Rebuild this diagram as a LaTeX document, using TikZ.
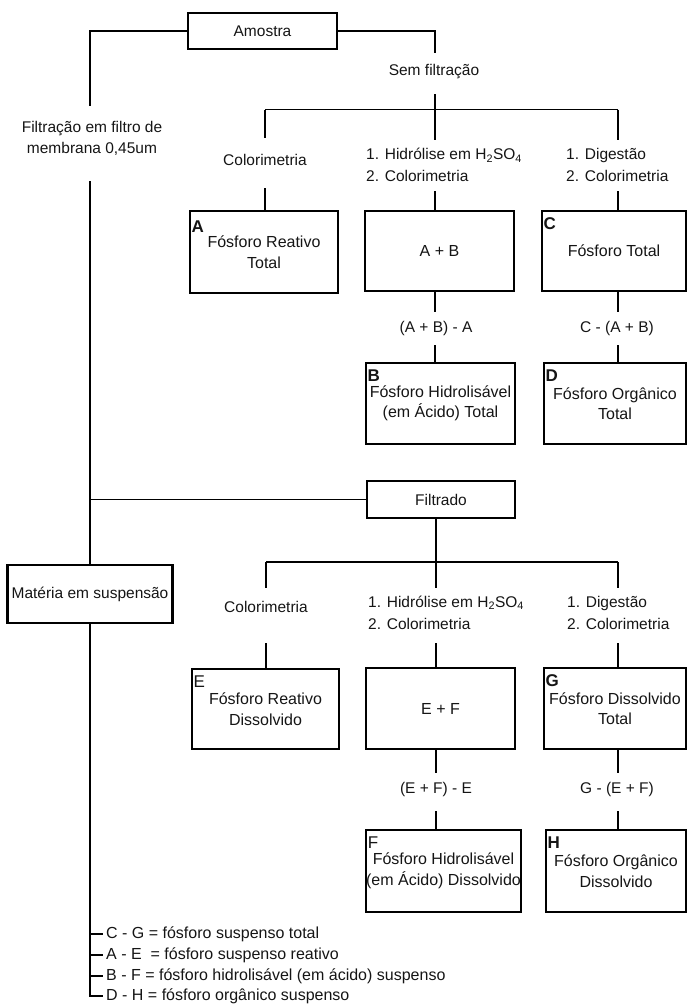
\documentclass[tikz,border=0pt]{standalone}
\usepackage{fontspec}
\setmainfont{Liberation Sans}
\definecolor{txt}{HTML}{151515}
\begin{document}
\begin{tikzpicture}[x=1pt,y=-1pt,
  conn/.style={line width=1.2pt, draw=black},
  lbl/.style={inner sep=0pt, font=\fontsize{15.5}{21}\selectfont, text=txt, align=center},
  steplbl/.style={inner sep=0pt, font=\fontsize{15.5}{22}\selectfont, text=txt, align=left, anchor=west},
  legend/.style={inner xsep=3pt, inner ysep=0pt, font=\fontsize{16}{20}\selectfont, text=txt, anchor=west},
  topbox/.style={draw, line width=2.5pt, inner sep=0pt, font=\fontsize{15.5}{20}\selectfont, text=txt},
  resbox/.style={draw, line width=2pt, inner sep=0pt, font=\fontsize{16}{20.5}\selectfont, text=txt, align=center},
  tagb/.style={anchor=north west, inner sep=0pt, xshift=2.5pt, yshift=-7.5pt, font=\fontsize{17}{17}\selectfont\bfseries, text=txt},
  tagr/.style={tagb, font=\fontsize{17}{17}\selectfont}
]
\useasboundingbox (0,0) rectangle (687,1007);

% ---- top level ----
\node[topbox, minimum width=149pt, minimum height=36pt] (amostra) at (262.5,31) {Amostra};
\node[lbl] (filt) at (92,138.5) {Filtração em filtro de\\membrana 0,45um};
\node[lbl] (sem) at (434,72) {Sem filtração};

\coordinate (fL-top) at (90,106);
\coordinate (fL-bot) at (90,181);
\coordinate (s-top) at (435,53);
\coordinate (s-bot) at (435,94);
\coordinate (b1a) at (265,109.5);
\coordinate (b1c) at (618,109.5);

% ---- first branch labels ----
\node[lbl] (col1) at (265,159.5) {Colorimetria};
\node[steplbl] (hid1) at (366,165) {1. Hidrólise em H\textsubscript{2}SO\textsubscript{4}\\2. Colorimetria};
\node[steplbl] (dig1) at (566,165) {1. Digestão\\2. Colorimetria};
\coordinate (col1-top) at (265,138);
\coordinate (col1-bot) at (265,188);
\coordinate (hid1-top) at (435,140);
\coordinate (hid1-bot) at (435,191);
\coordinate (dig1-top) at (618,140);
\coordinate (dig1-bot) at (618,191);

% ---- first row boxes ----
\node[resbox, minimum width=148pt, minimum height=82pt,
      label={[tagb, yshift=-3pt]north west:A}] (boxA) at (264,252) {Fósforo Reativo\\Total};
\node[resbox, minimum width=149pt, minimum height=80pt] (boxAB) at (439.5,251) {A + B};
\node[resbox, minimum width=144pt, minimum height=80pt,
      label={[tagb]north west:C}] (boxC) at (614,251) {Fósforo Total};

\node[lbl] (d1) at (436,328) {(A + B) - A};
\node[lbl] (d2) at (617,328) {C - (A + B)};
\coordinate (d1-top) at (435,312);
\coordinate (d1-bot) at (435,345);
\coordinate (d2-top) at (618,312);
\coordinate (d2-bot) at (618,345);

\node[resbox, minimum width=149pt, minimum height=81pt,
      label={[tagb]north west:B}] (boxB) at (440.5,403.5) {Fósforo Hidrolisável\\(em Ácido) Total};
\node[resbox, minimum width=142pt, minimum height=81pt,
      label={[tagb]north west:D}] (boxD) at (615,403.5) {Fósforo Orgânico\\Total};

% ---- filtrado branch ----
\node[topbox, line width=2.2pt, minimum width=148pt, minimum height=37pt] (filtrado) at (441,499.5) {Filtrado};
\node[topbox, line width=2.3pt, minimum width=165pt, minimum height=58pt] (materia) at (90,594) {Matéria em suspensão};

\coordinate (b2a) at (266,562);
\coordinate (b2b) at (436,562);
\coordinate (b2c) at (618,562);

\node[lbl] (col2) at (266,606.5) {Colorimetria};
\node[steplbl] (hid2) at (368,612.5) {1. Hidrólise em H\textsubscript{2}SO\textsubscript{4}\\2. Colorimetria};
\node[steplbl] (dig2) at (567,612.5) {1. Digestão\\2. Colorimetria};
\coordinate (col2-top) at (266,588);
\coordinate (col2-bot) at (266,643);
\coordinate (hid2-top) at (436,588);
\coordinate (hid2-bot) at (436,643);
\coordinate (dig2-top) at (618,588);
\coordinate (dig2-bot) at (618,643);

\node[resbox, minimum width=147pt, minimum height=80pt,
      label={[tagr]north west:E}] (boxE) at (265.5,709) {Fósforo Reativo\\Dissolvido};
\node[resbox, minimum width=149pt, minimum height=81pt] (boxEF) at (440.5,708.5) {E + F};
\node[resbox, minimum width=142pt, minimum height=81pt,
      label={[tagb]north west:G}] (boxG) at (615,708.5) {Fósforo Dissolvido\\Total};

\node[lbl] (d3) at (436,789) {(E + F) - E};
\node[lbl] (d4) at (617,789) {G - (E + F)};
\coordinate (d3-top) at (436,773);
\coordinate (d3-bot) at (436,811);
\coordinate (d4-top) at (618,773);
\coordinate (d4-bot) at (618,811);

\node[resbox, minimum width=149pt, minimum height=82pt,
      label={[tagr]north west:F}] (boxF) at (443.5,871) {Fósforo Hidrolisável\\(em Ácido) Dissolvido};
\node[resbox, minimum width=140pt, minimum height=82pt,
      label={[tagb]north west:H}] (boxH) at (616,871) {Fósforo Orgânico\\Dissolvido};

% ---- legend ----
\node[legend] (leg1) at (103,934) {C - G = fósforo suspenso total};
\node[legend] (leg2) at (103,955) {A - E~ = fósforo suspenso reativo};
\node[legend] (leg3) at (103,976) {B - F = fósforo hidrolisável (em ácido) suspenso};
\node[legend] (leg4) at (103,996) {D - H = fósforo orgânico suspenso};

% ---- connectors ----
\draw[conn] (amostra.west) -| (fL-top);
\draw[conn] (amostra.east) -| (s-top);
\draw[conn] (s-bot) -- (hid1-top);
\draw[conn] (b1a) -- (b1c);
\draw[conn] (b1a) -- (col1-top);
\draw[conn] (b1c) -- (dig1-top);
\draw[conn] (col1-bot) -- (col1-bot |- boxA.north);
\draw[conn] (hid1-bot) -- (hid1-bot |- boxAB.north);
\draw[conn] (dig1-bot) -- (dig1-bot |- boxC.north);
\draw[conn] (d1-top |- boxAB.south) -- (d1-top);
\draw[conn] (d1-bot) -- (d1-bot |- boxB.north);
\draw[conn] (d2-top |- boxC.south) -- (d2-top);
\draw[conn] (d2-bot) -- (d2-bot |- boxD.north);

\draw[conn] (fL-bot) -- (materia.north);
\draw[conn] (filtrado.west) -- (filtrado.west -| materia.north);
\draw[conn] (b2b |- filtrado.south) -- (hid2-top);
\draw[conn] (b2a) -- (b2c);
\draw[conn] (b2a) -- (col2-top);
\draw[conn] (b2c) -- (dig2-top);
\draw[conn] (col2-bot) -- (col2-bot |- boxE.north);
\draw[conn] (hid2-bot) -- (hid2-bot |- boxEF.north);
\draw[conn] (dig2-bot) -- (dig2-bot |- boxG.north);
\draw[conn] (d3-top |- boxEF.south) -- (d3-top);
\draw[conn] (d3-bot) -- (d3-bot |- boxF.north);
\draw[conn] (d4-top |- boxG.south) -- (d4-top);
\draw[conn] (d4-bot) -- (d4-bot |- boxH.north);

\draw[conn] (materia.south) |- (leg4.west);
\draw[conn] (leg1.west -| materia.south) -- (leg1.west);
\draw[conn] (leg2.west -| materia.south) -- (leg2.west);
\draw[conn] (leg3.west -| materia.south) -- (leg3.west);
\end{tikzpicture}
\end{document}
